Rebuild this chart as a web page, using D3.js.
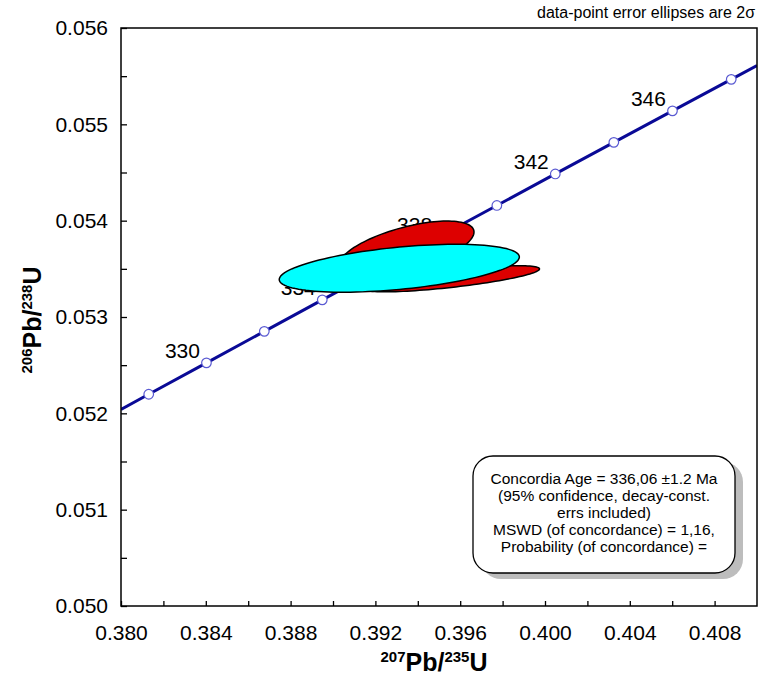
<!DOCTYPE html>
<html>
<head>
<meta charset="utf-8">
<script src="https://cdn.jsdelivr.net/npm/d3@7"></script>
<style>
  body { margin: 0; background: #fff; }
  svg { font-family: Arial, "Liberation Sans", sans-serif; }
</style>
</head>
<body>
<div class="chart"></div>
<script>
var svgWidth = 761;
var svgHeight = 678;

// concordia curve: ages (Ma) with the two ratios
var markerAges = [328, 330, 332, 334, 336, 338, 340, 342, 344, 346, 348];
var marker207 = [0.381308, 0.384031, 0.386760, 0.389494, 0.392234, 0.394979, 0.397729, 0.400485, 0.403246, 0.406013, 0.408785];
var marker206 = [0.052198, 0.052524, 0.052851, 0.053178, 0.053504, 0.053831, 0.054158, 0.054485, 0.054813, 0.055140, 0.055467];
var labelledAges = [330, 334, 338, 342, 346];

// ends of the curve where it meets the frame
var curveStart = [0.380, 0.052041];
var curveEnd = [0.410, 0.055610];

// error ellipses: centre, 2-sigma half widths, error correlation
var ellipseNames = ["spot 1", "spot 2", "concordia age"];
var ellipseX = [0.393467, 0.395575, 0.393127];
var ellipseY = [0.053711, 0.053397, 0.053506];
var ellipseSx = [0.003184, 0.004165, 0.005663];
var ellipseSy = [0.000285, 0.000136, 0.000249];
var ellipseRho = [0.60, 0.75, 0.47];
var ellipseFill = ["#dd0000", "#dd0000", "#00ffff"];

var xMajor = [0.380, 0.384, 0.388, 0.392, 0.396, 0.400, 0.404, 0.408];
var xMinor = [0.382, 0.386, 0.390, 0.394, 0.398, 0.402, 0.406];
var yMajor = [0.050, 0.051, 0.052, 0.053, 0.054, 0.055, 0.056];
var yMinor = [0.0505, 0.0515, 0.0525, 0.0535, 0.0545, 0.0555];

var boxLines = [
    "Concordia Age = 336,06 \u00b11.2 Ma",
    "(95% confidence, decay-const.",
    "errs included)",
    "MSWD (of concordance) = 1,16,",
    "Probability (of concordance) ="
];

var plot = { left: 121, right: 757, top: 28, bottom: 606 };

var svg = d3.select(".chart")
    .append("svg")
    .attr("width", svgWidth)
    .attr("height", svgHeight);

var x = d3.scaleLinear().domain([0.380, 0.410]).range([plot.left, plot.right]);
var y = d3.scaleLinear().domain([0.050, 0.056]).range([plot.bottom, plot.top]);

var fmt = d3.format(".3f");

var bottomAxis = d3.axisBottom(x)
    .tickValues(xMajor.concat(xMinor))
    .tickFormat(function(d) { return xMajor.indexOf(d) >= 0 ? fmt(d) : ""; })
    .tickSizeInner(-5)
    .tickSizeOuter(0)
    .tickPadding(19);

var leftAxis = d3.axisLeft(y)
    .tickValues(yMajor.concat(yMinor))
    .tickFormat(function(d) { return yMajor.indexOf(d) >= 0 ? fmt(d) : ""; })
    .tickSizeInner(-6)
    .tickSizeOuter(0)
    .tickPadding(13);

var gx = svg.append("g")
    .attr("transform", "translate(0," + plot.bottom + ")")
    .call(bottomAxis);
var gy = svg.append("g")
    .attr("transform", "translate(" + plot.left + ",0)")
    .call(leftAxis);

[gx, gy].forEach(function(g) {
    g.select(".domain").remove();
    g.selectAll(".tick line").attr("stroke", "#000").attr("stroke-width", 1.3);
    g.selectAll(".tick text")
        .attr("fill", "#000")
        .style("font-size", "21px")
        .style("font-family", "Arial, 'Liberation Sans', sans-serif");
});

// clip for the curve
svg.append("clipPath").attr("id", "plotclip")
    .append("rect")
    .attr("x", plot.left).attr("y", plot.top)
    .attr("width", plot.right - plot.left)
    .attr("height", plot.bottom - plot.top);

var curvePts = [curveStart];
markerAges.forEach(function(a, i) { curvePts.push([marker207[i], marker206[i]]); });
curvePts.push(curveEnd);

var line = d3.line()
    .x(function(d) { return x(d[0]); })
    .y(function(d) { return y(d[1]); });

svg.append("path")
    .datum(curvePts)
    .attr("d", line)
    .attr("clip-path", "url(#plotclip)")
    .attr("fill", "none")
    .attr("stroke", "#0a0a96")
    .attr("stroke-width", 3);

svg.selectAll("circle.marker")
    .data(markerAges)
    .enter()
    .append("circle")
    .attr("class", "marker")
    .attr("cx", function(d, i) { return x(marker207[i]); })
    .attr("cy", function(d, i) { return y(marker206[i]); })
    .attr("r", 4.8)
    .attr("fill", "#fff")
    .attr("stroke", "#5a5ad2")
    .attr("stroke-width", 1.2);

svg.selectAll("text.age")
    .data(labelledAges)
    .enter()
    .append("text")
    .attr("class", "age")
    .attr("x", function(d) { return x(marker207[markerAges.indexOf(d)]) - 24; })
    .attr("y", function(d) { return y(marker206[markerAges.indexOf(d)]) - 5; })
    .attr("text-anchor", "middle")
    .style("font-size", "21px")
    .text(function(d) { return d; });

// ellipses traced from centre, half widths and correlation
function ellipsePath(i) {
    var pts = d3.range(0, 361, 3).map(function(deg) {
        var t = deg * Math.PI / 180;
        var ex = ellipseX[i] + ellipseSx[i] * Math.cos(t);
        var ey = ellipseY[i] + ellipseSy[i] * (ellipseRho[i] * Math.cos(t) +
            Math.sqrt(1 - ellipseRho[i] * ellipseRho[i]) * Math.sin(t));
        return [ex, ey];
    });
    return line(pts) + "Z";
}

svg.selectAll("path.ellipse")
    .data(ellipseNames)
    .enter()
    .append("path")
    .attr("class", "ellipse")
    .attr("d", function(d, i) { return ellipsePath(i); })
    .attr("fill", function(d, i) { return ellipseFill[i]; })
    .attr("stroke", "#000")
    .attr("stroke-width", 1.5);

// frame
svg.append("rect")
    .attr("x", plot.left).attr("y", plot.top)
    .attr("width", plot.right - plot.left)
    .attr("height", plot.bottom - plot.top)
    .attr("fill", "none")
    .attr("stroke", "#000")
    .attr("stroke-width", 1.5);

// result box with shadow
var box = { x: 473, y: 456, w: 262, h: 117 };
svg.append("rect")
    .attr("x", box.x + 8).attr("y", box.y + 6)
    .attr("width", box.w).attr("height", box.h)
    .attr("rx", 20).attr("ry", 20)
    .attr("fill", "#bdbdbd");
svg.append("rect")
    .attr("x", box.x).attr("y", box.y)
    .attr("width", box.w).attr("height", box.h)
    .attr("rx", 20).attr("ry", 20)
    .attr("fill", "#fff")
    .attr("stroke", "#000")
    .attr("stroke-width", 1.3);

svg.selectAll("text.boxline")
    .data(boxLines)
    .enter()
    .append("text")
    .attr("class", "boxline")
    .attr("x", box.x + box.w / 2)
    .attr("y", function(d, i) { return 484 + i * 17; })
    .attr("text-anchor", "middle")
    .style("font-size", "15.5px")
    .text(function(d) { return d; });

svg.append("text")
    .attr("x", 755)
    .attr("y", 18)
    .attr("text-anchor", "end")
    .style("font-size", "16px")
    .text("data-point error ellipses are 2\u03c3");

// axis titles
var xt = svg.append("text")
    .attr("x", (plot.left + plot.right) / 2 - 5)
    .attr("y", 671)
    .attr("text-anchor", "middle")
    .style("font-weight", "bold")
    .style("font-size", "25px");
xt.append("tspan").style("font-size", "15px").attr("dy", -9).text("207");
xt.append("tspan").attr("dy", 9).text("Pb/");
xt.append("tspan").style("font-size", "15px").attr("dy", -9).text("235");
xt.append("tspan").attr("dy", 9).text("U");

var yt = svg.append("text")
    .attr("transform", "translate(41," + ((plot.top + plot.bottom) / 2 + 3) + ") rotate(-90)")
    .attr("text-anchor", "middle")
    .style("font-weight", "bold")
    .style("font-size", "25px");
yt.append("tspan").style("font-size", "15px").attr("dy", -9).text("206");
yt.append("tspan").attr("dy", 9).text("Pb/");
yt.append("tspan").style("font-size", "15px").attr("dy", -9).text("238");
yt.append("tspan").attr("dy", 9).text("U");
</script>
</body>
</html>
